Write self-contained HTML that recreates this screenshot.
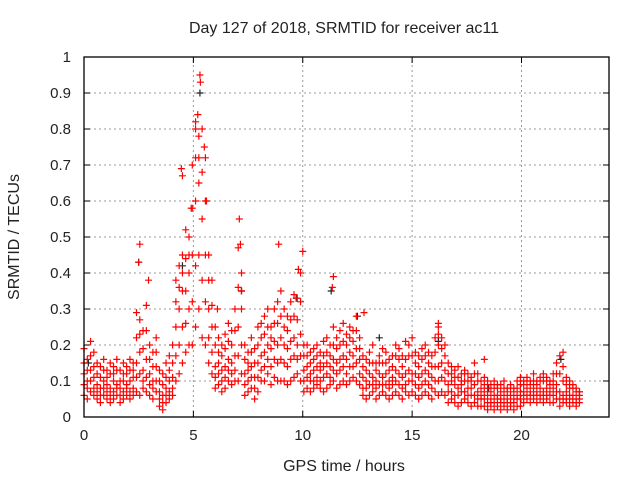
<!DOCTYPE html>
<html><head><meta charset="utf-8"><style>
body{margin:0;background:#fff}
svg{display:block;font-family:"Liberation Sans",sans-serif}
</style></head><body>
<svg id="chart" width="640" height="480">
<text x="344" y="33" text-anchor="middle" font-size="16" fill="#222">Day 127 of 2018, SRMTID for receiver ac11</text>
<text x="344" y="471" text-anchor="middle" font-size="16" fill="#222">GPS time / hours</text>
<text transform="translate(19,237) rotate(-90)" text-anchor="middle" font-size="16" fill="#222">SRMTID / TECUs</text>
<g id="grid"></g>
<g id="ticks"></g>
<g id="marks"></g>
<rect x="84" y="57" width="525" height="360" fill="none" stroke="#000" stroke-width="1.3"/>
</svg>
<script>
const xTicks=[0,5,10,15,20];
const yTicks=[0,0.1,0.2,0.3,0.4,0.5,0.6,0.7,0.8,0.9,1];
const yTickLabels=["0","0.1","0.2","0.3","0.4","0.5","0.6","0.7","0.8","0.9","1"];
const times=[0,0.15,0.3,0.45,0.6,0.75,0.9,1.05,1.2,1.35,1.5,1.65,1.8,1.95,2.1,2.25,2.4,2.55,2.7,2.85,3.0,3.15,3.3,3.45,3.6,3.75,3.9,4.05,4.2,4.35,4.5,4.65,4.8,4.95,5.1,5.25,5.4,5.55,5.7,5.85,6.0,6.15,6.3,6.45,6.6,6.75,6.9,7.05,7.2,7.35,7.5,7.65,7.8,7.95,8.1,8.25,8.4,8.55,8.7,8.85,9.0,9.15,9.3,9.45,9.6,9.75,9.9,10.05,10.2,10.35,10.5,10.65,10.8,10.95,11.1,11.25,11.4,11.55,11.7,11.85,12.0,12.15,12.3,12.45,12.6,12.75,12.9,13.05,13.2,13.35,13.5,13.65,13.8,13.95,14.1,14.25,14.4,14.55,14.7,14.85,15.0,15.15,15.3,15.45,15.6,15.75,15.9,16.05,16.2,16.35,16.5,16.65,16.8,16.95,17.1,17.25,17.4,17.55,17.7,17.85,18.0,18.15,18.3,18.45,18.6,18.75,18.9,19.05,19.2,19.35,19.5,19.65,19.8,19.95,20.1,20.25,20.4,20.55,20.7,20.85,21.0,21.15,21.3,21.45,21.6,21.75,21.9,22.05,22.2,22.35,22.5,22.65];
const yLow=[.06,.05,.07,.06,.05,.04,.06,.05,.04,.05,.06,.04,.05,.06,.05,.06,.07,.06,.08,.07,.06,.05,.07,.03,.02,.04,.05,.06,.1,.12,.15,.18,.2,.2,.25,.3,.22,.2,.15,.12,.08,.09,.07,.08,.1,.09,.1,.1,.12,.06,.07,.08,.05,.07,.1,.1,.12,.09,.11,.1,.1,.1,.09,.1,.11,.12,.1,.07,.08,.07,.08,.09,.08,.07,.08,.09,.1,.08,.09,.1,.09,.1,.11,.1,.09,.06,.05,.06,.07,.05,.06,.07,.06,.05,.06,.07,.06,.05,.07,.06,.07,.06,.05,.06,.07,.06,.05,.07,.06,.07,.06,.04,.05,.04,.03,.04,.05,.04,.03,.04,.03,.03,.03,.02,.03,.02,.03,.02,.03,.02,.03,.02,.03,.03,.04,.05,.04,.05,.04,.05,.04,.05,.04,.04,.05,.03,.04,.04,.03,.04,.03,.04];
const yQ1=[.09,.08,.1,.08,.07,.06,.08,.07,.06,.07,.08,.06,.07,.08,.07,.08,.11,.12,.1,.11,.09,.08,.1,.05,.04,.06,.07,.08,.17,.2,.25,.26,.3,.32,.42,.45,.38,.32,.22,.18,.11,.12,.1,.11,.13,.12,.13,.17,.2,.09,.1,.11,.08,.11,.13,.14,.16,.14,.16,.15,.16,.15,.14,.16,.17,.16,.17,.1,.11,.1,.1,.11,.1,.11,.12,.11,.13,.12,.13,.14,.12,.14,.14,.15,.12,.08,.08,.09,.09,.08,.09,.09,.09,.08,.09,.1,.09,.08,.09,.1,.1,.09,.08,.09,.1,.09,.08,.1,.1,.11,.1,.07,.07,.06,.06,.07,.07,.06,.06,.06,.05,.05,.05,.04,.04,.04,.05,.04,.04,.04,.04,.04,.05,.05,.06,.06,.06,.06,.06,.06,.06,.06,.06,.06,.07,.05,.05,.05,.05,.05,.04,.05];
const yMid=[.12,.10,.13,.11,.09,.08,.1,.09,.08,.1,.09,.08,.1,.09,.1,.11,.15,.18,.13,.16,.12,.1,.14,.07,.06,.08,.1,.11,.25,.3,.35,.35,.4,.45,.6,.65,.55,.45,.3,.25,.14,.15,.13,.14,.16,.15,.17,.25,.3,.12,.13,.14,.11,.15,.17,.18,.2,.19,.21,.2,.22,.2,.19,.21,.22,.2,.23,.13,.14,.12,.13,.14,.13,.14,.15,.14,.16,.15,.16,.17,.16,.18,.17,.19,.16,.11,.1,.12,.11,.1,.12,.11,.12,.1,.11,.13,.12,.11,.12,.13,.12,.12,.11,.12,.13,.12,.11,.14,.14,.15,.13,.09,.1,.09,.08,.09,.1,.08,.08,.09,.07,.06,.07,.06,.05,.06,.06,.05,.06,.05,.06,.05,.06,.07,.07,.08,.07,.08,.07,.08,.07,.08,.07,.08,.09,.07,.06,.07,.06,.06,.05,.06];
const yQ3=[.15,.13,.17,.14,.12,.11,.13,.11,.12,.12,.13,.1,.12,.12,.13,.13,.22,.23,.19,.24,.16,.14,.18,.1,.09,.11,.13,.15,.32,.36,.4,.44,.45,.58,.72,.72,.68,.6,.38,.31,.2,.18,.17,.19,.21,.2,.24,.36,.35,.16,.15,.18,.15,.2,.22,.23,.25,.22,.26,.26,.28,.25,.24,.27,.28,.27,.32,.17,.17,.15,.16,.17,.15,.17,.18,.17,.2,.19,.2,.21,.2,.22,.21,.24,.19,.14,.13,.15,.15,.13,.15,.15,.15,.13,.14,.17,.16,.14,.16,.17,.17,.15,.14,.16,.17,.15,.14,.18,.2,.19,.17,.12,.12,.11,.11,.1,.12,.1,.1,.12,.1,.08,.09,.08,.07,.08,.08,.07,.08,.07,.08,.07,.08,.09,.09,.1,.09,.1,.09,.1,.1,.1,.09,.1,.12,.12,.1,.09,.08,.08,.07,.07];
const yHigh=[.19,.16,.21,.18,.15,.14,.16,.13,.15,.14,.16,.13,.15,.14,.16,.15,.29,.27,.24,.31,.2,.18,.22,.13,.12,.15,.17,.2,.38,.42,.45,.52,.5,.7,.82,.78,.8,.72,.45,.38,.25,.22,.2,.23,.26,.24,.3,.47,.4,.2,.18,.22,.19,.25,.26,.28,.3,.25,.3,.32,.35,.3,.28,.32,.34,.33,.4,.2,.2,.18,.19,.2,.18,.21,.22,.2,.25,.22,.24,.26,.23,.25,.24,.28,.22,.17,.16,.18,.2,.15,.17,.19,.18,.16,.17,.2,.19,.17,.21,.2,.22,.18,.17,.19,.2,.18,.17,.22,.25,.22,.2,.15,.14,.13,.14,.12,.13,.12,.11,.15,.12,.1,.11,.1,.09,.1,.09,.09,.1,.08,.09,.08,.1,.11,.1,.11,.1,.12,.1,.11,.12,.11,.1,.12,.15,.17,.14,.11,.1,.09,.08,.07];
const spikeX=[2.55,2.5,2.95,4.45,4.5,5.2,5.3,5.32,5.1,5.5,7.1,7.15,8.9,9.8,10.0,11.4,11.35,12.8,16.2,16.2,21.9,18.3,6.1,7.2,5.6,4.9];
const spikeY=[.48,.43,.38,.69,.67,.84,.95,.93,.8,.75,.55,.48,.48,.41,.46,.39,.36,.29,.26,.23,.18,.16,.3,.35,.6,.58];
const blackX=[2.5,4.5,5.3,7.2,11.3,12.5,16.2,21.8,9.7,13.5,0.2,18.5];
const blackY=[.43,.42,.9,.35,.35,.28,.21,.16,.33,.22,.15,.08];

const X0=84,X1=609,Y0=417,Y1=57;
const sx=t=>X0+t/24*(X1-X0);
const sy=v=>Y0-v*(Y0-Y1);
const NS="http://www.w3.org/2000/svg";
const grid=document.getElementById('grid'),ticks=document.getElementById('ticks'),marks=document.getElementById('marks');
function mk(tag,attrs,parent){const e=document.createElementNS(NS,tag);for(const k in attrs)e.setAttribute(k,attrs[k]);parent.appendChild(e);return e;}
xTicks.forEach(t=>{
  const x=sx(t);
  if(t>0){const g=mk('line',{x1:x,x2:x,y1:Y0,y2:Y1,stroke:'#999','stroke-dasharray':'2,3'},grid);
  
  }
  mk('line',{x1:x,x2:x,y1:Y0,y2:Y0-6,stroke:'#000'},ticks);
  mk('line',{x1:x,x2:x,y1:Y1,y2:Y1+6,stroke:'#000'},ticks);
  const l=mk('text',{x:x,y:Y0+23,'text-anchor':'middle','font-size':15,fill:'#222'},ticks);
  l.textContent=t;
  
  
});
yTicks.forEach((v,i)=>{
  const y=sy(v);
  if(v>0&&v<1){const g=mk('line',{x1:X0,x2:X1,y1:y,y2:y,stroke:'#999','stroke-dasharray':'2,3'},grid);
  
  }
  mk('line',{x1:X0,x2:X0+6,y1:y,y2:y,stroke:'#000'},ticks);
  mk('line',{x1:X1,x2:X1-6,y1:y,y2:y,stroke:'#000'},ticks);
  const l=mk('text',{x:X0-13,y:y+5,'text-anchor':'end','font-size':15,fill:'#222'},ticks);
  l.textContent=yTickLabels[i];
  
  
});
function plus(t,v,color){
  const x=sx(t),y=sy(v);
  const p=mk('path',{d:`M${x-3.5},${y}H${x+3.5}M${x},${y-3.5}V${y+3.5}`,stroke:color,'stroke-width':1.2,fill:'none'},marks);
  
  
}
blackX.forEach((t,i)=>plus(t,blackY[i],'#222'));
times.forEach((t,i)=>{plus(t,yLow[i],'#f00');plus(t,yQ1[i],'#f00');plus(t,yMid[i],'#f00');plus(t,yQ3[i],'#f00');plus(t,yHigh[i],'#f00');});
spikeX.forEach((t,i)=>plus(t,spikeY[i],'#f00'));
</script>
</body></html>
